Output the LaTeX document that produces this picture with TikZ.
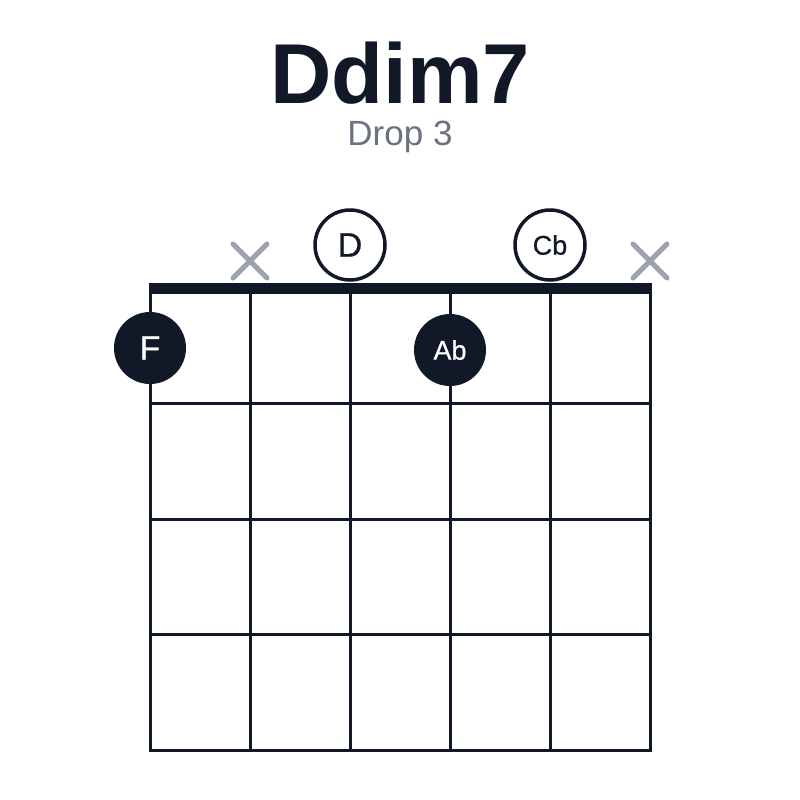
\documentclass[tikz,border=0pt]{standalone}
\usepackage{fontspec}
\setmainfont{Liberation Sans}
\newfontfamily\medfont[FakeBold=0.6]{Liberation Sans}
\definecolor{ink}{HTML}{111827}
\definecolor{muted}{HTML}{6B7280}
\definecolor{xgray}{HTML}{9CA3AF}
\begin{document}
\begin{tikzpicture}[x=1pt,y=-1pt,
  gridline/.style={draw=ink,line width=3pt},
  nutline/.style={draw=ink,line width=11pt},
  fingerdot/.style={circle,fill=ink,minimum size=72pt,inner sep=0pt,text=white},
  opendot/.style={circle,draw=ink,line width=3.5pt,fill=white,minimum size=70pt,inner sep=0pt,text=ink},
  mutemark/.style={draw=xgray,line width=5pt,line cap=round},
  bigtxt/.style={font=\medfont\fontsize{34}{34}\selectfont},
  smalltxt/.style={font=\medfont\fontsize{27}{27}\selectfont}]
\useasboundingbox (0,0) rectangle (800,800);
\fill[white] (0,0) rectangle (800,800);
% title
\node[text=ink,font=\fontsize{85}{85}\bfseries\selectfont] (title) at (400,73) {Ddim7};
\node[text=muted,font=\fontsize{35}{35}\selectfont] (sub) at (400,137) {Drop 3};
% strings
\foreach \i/\x in {1/150,2/250,3/350,4/450,5/550,6/650}{
  \coordinate (s\i t) at (\x,288);
  \coordinate (s\i b) at (\x,750);
  \draw[gridline] (s\i t) -- (s\i b);
}
% frets
\foreach \j/\y in {1/403.5,2/519,3/634.5,4/750}{
  \coordinate (f\j l) at (148.5,\y);
  \coordinate (f\j r) at (651.5,\y);
  \draw[gridline] (f\j l) -- (f\j r);
}
% nut
\coordinate (nl) at (148.5,288.5);
\coordinate (nr) at (651.5,288.5);
\draw[nutline] (nl) -- (nr);
% muted strings
\foreach \n/\x in {m2/250,m6/650}{
  \coordinate (\n a) at (\x-17,244);
  \coordinate (\n b) at (\x+17,278);
  \coordinate (\n c) at (\x-17,278);
  \coordinate (\n d) at (\x+17,244);
  \draw[mutemark] (\n a) -- (\n b);
  \draw[mutemark] (\n c) -- (\n d);
}
% open notes
\node[opendot,bigtxt] (oD) at (350,245) {D};
\node[opendot,smalltxt] (oCb) at (550,245) {Cb};
% fretted notes
\node[fingerdot,bigtxt] (dF) at (150,348) {F};
\node[fingerdot,smalltxt] (dAb) at (450,350) {Ab};
\end{tikzpicture}
\end{document}
